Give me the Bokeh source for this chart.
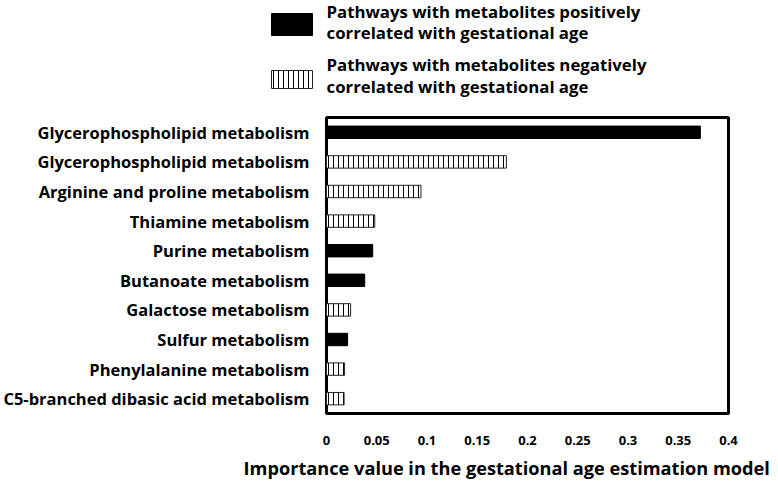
from bokeh.plotting import figure
from bokeh.layouts import column
from bokeh.models import Range1d, FixedTicker, ColumnDataSource, Title
from bokeh.core.properties import value
from bokeh.embed import file_html
from bokeh.resources import INLINE

pathways = [
    "Glycerophospholipid metabolism",
    "Glycerophospholipid metabolism",
    "Arginine and proline metabolism",
    "Thiamine metabolism",
    "Purine metabolism",
    "Butanoate metabolism",
    "Galactose metabolism",
    "Sulfur metabolism",
    "Phenylalanine metabolism",
    "C5-branched dibasic acid metabolism",
]
importance = [0.372, 0.179, 0.094, 0.048, 0.046, 0.038, 0.024, 0.021, 0.018, 0.0175]
direction = ["pos", "neg", "neg", "neg", "pos", "pos", "neg", "pos", "neg", "neg"]
x_ticks = [0, 0.05, 0.1, 0.15, 0.2, 0.25, 0.3, 0.35, 0.4]
x_tick_labels = ["0", "0.05", "0.1", "0.15", "0.2", "0.25", "0.3", "0.35", "0.4"]
legend_lines = {
    "pos": ["Pathways with metabolites positively", "correlated with gestational age"],
    "neg": ["Pathways with metabolites negatively", "correlated with gestational age"],
}
x_title = "Importance value in the gestational age estimation model"

FONT = "Open Sans"
POS_STYLE = dict(fill_color="black", line_color="black")
NEG_STYLE = dict(fill_color="white", line_color="#222222", line_width=1,
                 hatch_pattern="vertical_line", hatch_scale=5, hatch_weight=1, hatch_color="black")

pos_idx = [i for i, d in enumerate(direction) if d == "pos"]
neg_idx = [i for i, d in enumerate(direction) if d == "neg"]
src_pos = ColumnDataSource(dict(y=pos_idx, v=[importance[i] for i in pos_idx]))
src_neg = ColumnDataSource(dict(y=neg_idx, v=[importance[i] for i in neg_idx]))

W = 778
LG_H = 113

# ---- legend strip (top), drawn in a pixel-like coordinate space ----
lg = figure(width=W, height=LG_H, output_backend="svg", toolbar_location=None,
            x_range=Range1d(0, W), y_range=Range1d(LG_H, 0),
            min_border_left=0, min_border_right=0, min_border_top=0, min_border_bottom=0,
            x_axis_type=None, y_axis_type=None, frame_align=False)
lg.outline_line_color = None
lg.xgrid.visible = False
lg.ygrid.visible = False
lg.background_fill_color = None
lg.border_fill_color = None

key_left, key_right, text_x = 271, 312, 326
items = [("pos", POS_STYLE, 13, 35, 11, 32), ("neg", NEG_STYLE, 70, 88, 64, 86)]
for key, style, k_top, k_bot, y1, y2 in items:
    lg.quad(left=[key_left], right=[key_right], top=[k_top], bottom=[k_bot], **style)
    lg.text(x=[text_x, text_x], y=[y1, y2], text=legend_lines[key],
            text_font=value(FONT), text_font_style="bold", text_font_size="16.8px",
            text_color="black", text_baseline="middle", text_align="left")

# ---- main chart ----
p = figure(width=W, height=372, output_backend="svg", toolbar_location=None,
           x_range=Range1d(0, 0.4), y_range=Range1d(len(pathways) - 0.5, -0.5),
           min_border_left=326, min_border_right=50, min_border_top=4, min_border_bottom=10,
           frame_align=False)

r_pos = p.hbar(y="y", right="v", left=0, height=0.42, source=src_pos, **POS_STYLE)
r_neg = p.hbar(y="y", right="v", left=0, height=0.42, source=src_neg, **NEG_STYLE)

p.xgrid.visible = False
p.ygrid.visible = False
p.outline_line_color = "black"
p.outline_line_width = 3
p.outline_line_alpha = 1

xa = p.xaxis[0]
xa.ticker = FixedTicker(ticks=x_ticks)
xa.major_label_overrides = {t: l for t, l in zip(x_ticks, x_tick_labels)}
xa.major_tick_line_color = None
xa.minor_tick_line_color = None
xa.major_tick_out = 0
xa.minor_tick_out = 0
xa.axis_line_color = None
xa.major_label_text_font = FONT
xa.major_label_text_font_style = "bold"
xa.major_label_text_font_size = "13px"
xa.major_label_text_color = "black"
xa.major_label_standoff = 22

ya = p.yaxis[0]
ya.ticker = FixedTicker(ticks=list(range(len(pathways))))
ya.major_label_overrides = {i: n for i, n in enumerate(pathways)}
ya.major_tick_line_color = None
ya.minor_tick_line_color = None
ya.major_tick_out = 0
ya.minor_tick_out = 0
ya.axis_line_color = None
ya.major_label_text_font = FONT
ya.major_label_text_font_style = "bold"
ya.major_label_text_font_size = "16.5px"
ya.major_label_text_color = "black"
ya.major_label_standoff = 17

title = Title(text=x_title, align="left", offset=-83, text_font=FONT, text_font_style="bold",
              text_font_size="18.2px", text_color="black", standoff=12)
p.add_layout(title, "below")

layout = column(lg, p, spacing=0)
open("out.html", "w").write(file_html(layout, INLINE))
